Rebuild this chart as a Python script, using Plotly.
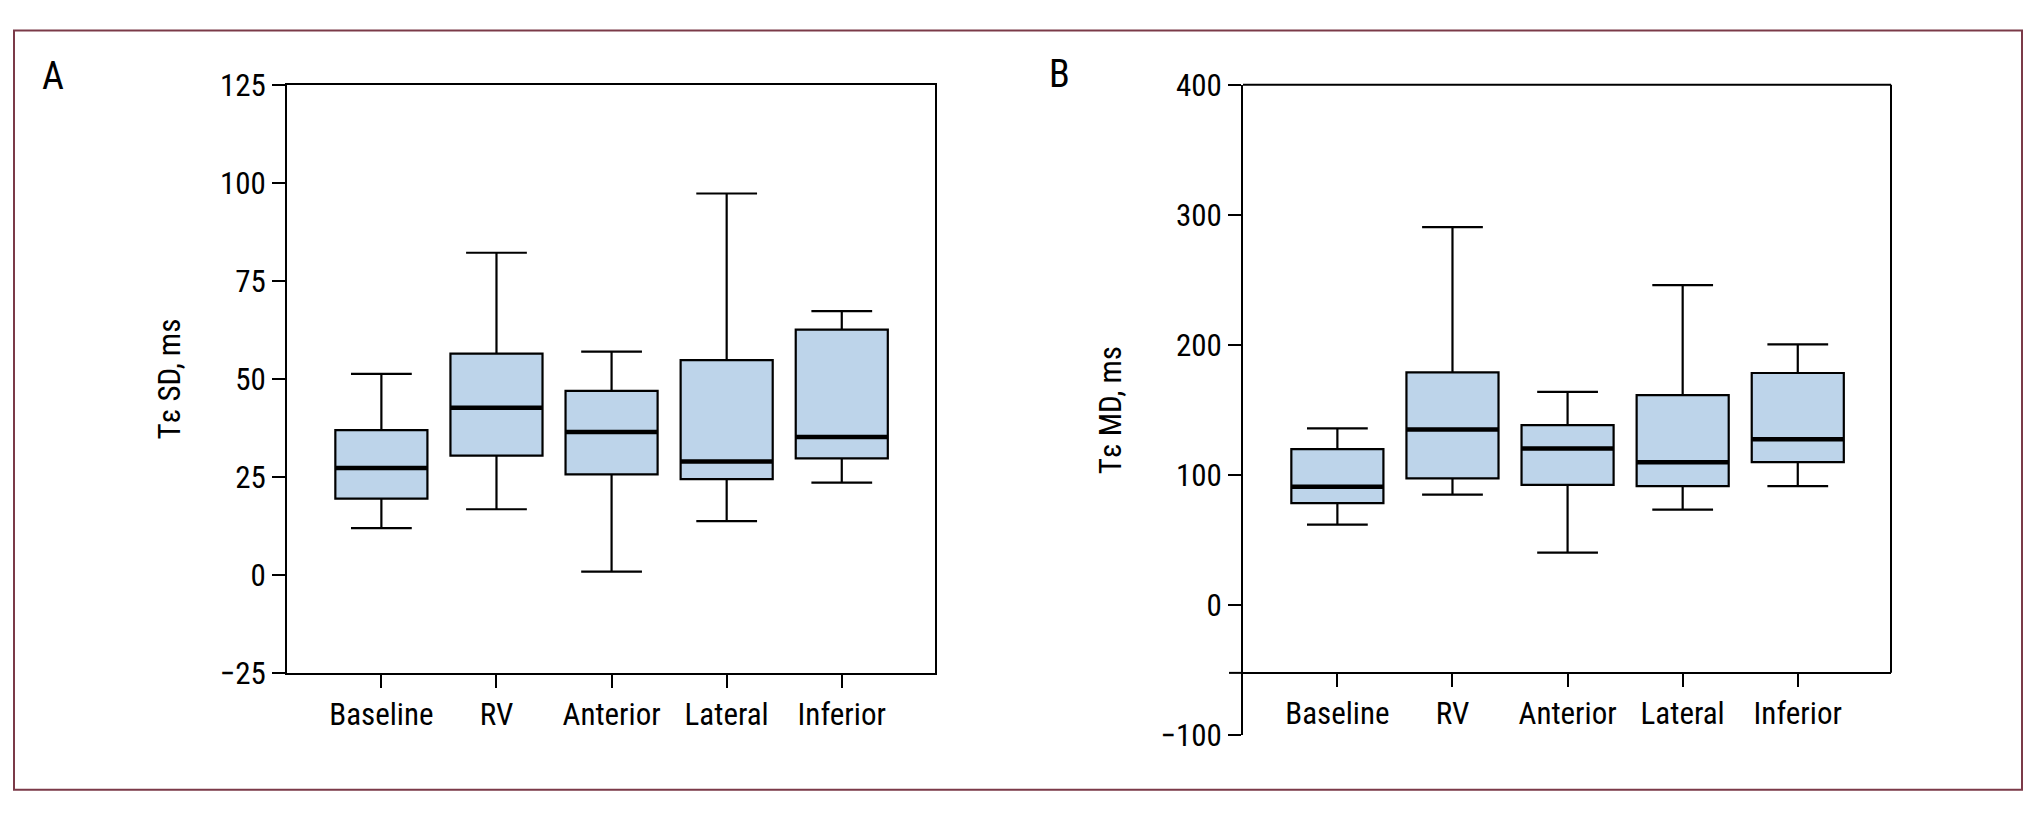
import plotly.graph_objects as go

categories = ["Baseline", "RV", "Anterior", "Lateral", "Inferior"]

# Panel A: Tε SD, ms
a_low = [12.0, 16.8, 0.9, 13.8, 23.6]
a_q1 = [19.5, 30.5, 25.7, 24.5, 29.8]
a_med = [27.3, 42.7, 36.5, 29.0, 35.2]
a_q3 = [37.0, 56.5, 47.0, 54.8, 62.6]
a_high = [51.3, 82.2, 57.0, 97.3, 67.3]

# Panel B: Tε MD, ms
b_low = [62.0, 85.0, 40.5, 73.5, 91.5]
b_q1 = [78.5, 97.5, 92.5, 91.5, 110.0]
b_med = [91.0, 135.0, 120.5, 110.0, 127.5]
b_q3 = [120.0, 179.0, 138.5, 161.5, 178.5]
b_high = [136.0, 290.7, 164.0, 246.0, 200.5]

a_ticks = [-25, 0, 25, 50, 75, 100, 125]
b_ticks = [-100, 0, 100, 200, 300, 400]

W, H = 2041, 825
pos = list(range(len(categories)))
BOXW = 0.8
FILL = "#bdd4ea"
NARROW = "Roboto Condensed, DejaVu Sans Condensed, sans-serif"
TICKFONT = dict(family=NARROW, size=31, color="black")
TITLEFONT = dict(family=NARROW, size=31, color="black")

fig = go.Figure()

def add_panel(xa, ya, low, q1, med, q3, high):
    fig.add_trace(go.Box(
        x=pos, lowerfence=low, q1=q1, median=med, q3=q3, upperfence=high,
        width=BOXW, whiskerwidth=0.66, boxpoints=False,
        fillcolor=FILL, line=dict(color="black", width=2.2),
        xaxis=xa, yaxis=ya, showlegend=False, hoverinfo="skip"))
    mx, my = [], []
    for p, m in zip(pos, med):
        mx += [p - BOXW / 2, p + BOXW / 2, None]
        my += [m, m, None]
    fig.add_trace(go.Scatter(x=mx, y=my, mode="lines",
                             line=dict(color="black", width=4.5),
                             xaxis=xa, yaxis=ya, showlegend=False, hoverinfo="skip"))

add_panel("x", "y", a_low, a_q1, a_med, a_q3, a_high)
add_panel("x2", "y2", b_low, b_q1, b_med, b_q3, b_high)

axcommon = dict(showgrid=False, zeroline=False, showline=True, linecolor="black", linewidth=2,
                ticks="outside", ticklen=13, tickwidth=2, tickcolor="black", tickfont=TICKFONT)

b_xpos_val = -52
b_ylow = -100
b_ytop = 400
ya_dom = [1 - 686 / H, 1 - 70 / H]
yb_dom = [1 - 751 / H, 1 - 70 / H]
xa_dom = [287 / W, 935 / W]
xb_dom = [1243 / W, 1891 / W]
b_xaxis_pos = yb_dom[0] + (b_xpos_val - b_ylow) / (b_ytop - b_ylow) * (yb_dom[1] - yb_dom[0])

fig.update_layout(
    width=W, height=H, margin=dict(l=0, r=0, t=0, b=0),
    paper_bgcolor="white", plot_bgcolor="white",
    xaxis=dict(domain=xa_dom, range=[-0.82, 4.81], tickmode="array",
               tickvals=pos, ticktext=categories, mirror=True, anchor="y", **axcommon),
    yaxis=dict(domain=ya_dom, range=[-25, 125], tickmode="array", tickvals=a_ticks,
               ticktext=["\u221225" if t < 0 else str(t) for t in a_ticks],
               mirror=True, anchor="x",
               title=dict(text="T\u03b5 SD, ms", font=TITLEFONT, standoff=30), **axcommon),
    xaxis2=dict(domain=xb_dom, range=[-0.82, 4.81], tickmode="array",
                tickvals=pos, ticktext=categories, anchor="free", position=b_xaxis_pos, **axcommon),
    yaxis2=dict(domain=yb_dom, range=[b_ylow, b_ytop], tickmode="array", tickvals=b_ticks,
                ticktext=["\u2212100" if t < 0 else str(t) for t in b_ticks],
                anchor="x2",
                title=dict(text="T\u03b5 MD, ms", font=TITLEFONT, standoff=30), **axcommon),
)

frame = dict(color="black", width=2)
shapes = [
    dict(type="rect", xref="paper", yref="paper", x0=14 / W, x1=2022 / W, y0=1 - 808 / H, y1=1 - 13 / H,
         line=dict(color="#7b3a48", width=2)),
    # panel B: top line, right line, small left extension of the x axis line
    dict(type="line", xref="paper", yref="paper", x0=xb_dom[0], x1=xb_dom[1],
         y0=yb_dom[1], y1=yb_dom[1], line=frame),
    dict(type="line", xref="paper", yref="paper", x0=xb_dom[1], x1=xb_dom[1],
         y0=b_xaxis_pos, y1=yb_dom[1], line=frame),
    dict(type="line", xref="paper", yref="paper", x0=xb_dom[0] - 14 / W, x1=xb_dom[0],
         y0=b_xaxis_pos, y1=b_xaxis_pos, line=frame),
]
fig.update_layout(shapes=shapes)

PANELFONT = dict(family=NARROW, size=38, color="black")
fig.add_annotation(text="A", xref="paper", yref="paper", x=40 / W, y=1 - 36 / H,
                   xanchor="left", yanchor="top", showarrow=False, font=PANELFONT)
fig.add_annotation(text="B", xref="paper", yref="paper", x=1047 / W, y=1 - 33 / H,
                   xanchor="left", yanchor="top", showarrow=False, font=PANELFONT)

fig.write_html(
    "out.html",
    config={"displayModeBar": False},
    post_script=("document.body.style.margin='0';"
                 "document.body.style.overflow='hidden';"
                 "document.documentElement.style.overflow='hidden';"),
)
